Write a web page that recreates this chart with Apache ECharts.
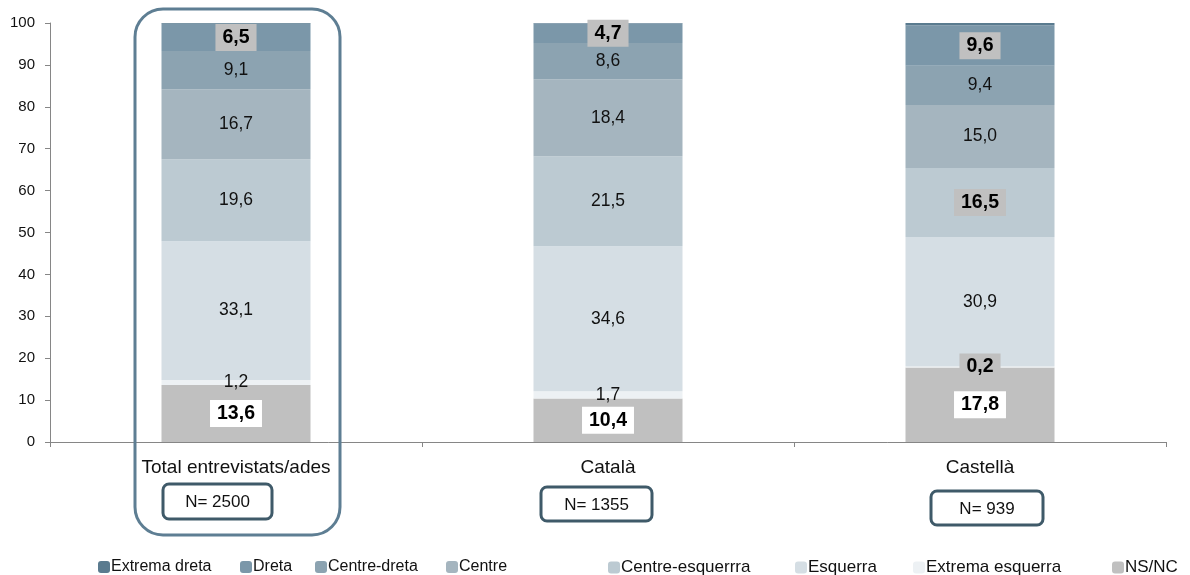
<!DOCTYPE html>
<html>
<head>
<meta charset="utf-8">
<script src="https://cdn.jsdelivr.net/npm/echarts@6/dist/echarts.min.js"></script>
<style>
html,body{margin:0;padding:0;background:#fff;}
#chart{width:1190px;height:575px;}
</style>
</head>
<body>
<div id="chart"></div>
<script>
// ---- data ----
const categories = ['Total entrevistats/ades', 'Català', 'Castellà'];
const sampleSizes = ['N= 2500', 'N= 1355', 'N= 939'];
const nsnc = [13.6, 10.4, 17.8];
const extremaEsquerra = [1.2, 1.7, 0.2];
const esquerra = [33.1, 34.6, 30.9];
const centreEsquerra = [19.6, 21.5, 16.5];
const centre = [16.7, 18.4, 15.0];
const centreDreta = [9.1, 8.6, 9.4];
const dreta = [6.5, 4.7, 9.6];
const extremaDreta = [0.2, 0.1, 0.6];
const yMin = 0, yMax = 100, yInterval = 10;

// stacking order (bottom -> top)
const seriesDefs = [
  { name: 'NS/NC', values: nsnc },
  { name: 'Extrema esquerra', values: extremaEsquerra },
  { name: 'Esquerra', values: esquerra },
  { name: 'Centre-esquerrra', values: centreEsquerra },
  { name: 'Centre', values: centre },
  { name: 'Centre-dreta', values: centreDreta },
  { name: 'Dreta', values: dreta },
  { name: 'Extrema dreta', values: extremaDreta }
];
const legendOrder = ['Extrema dreta', 'Dreta', 'Centre-dreta', 'Centre', 'Centre-esquerrra', 'Esquerra', 'Extrema esquerra', 'NS/NC'];

// ---- styling ----
const colors = {
  'Extrema dreta': '#5a7b8f',
  'Dreta': '#7b97a9',
  'Centre-dreta': '#8ca3b1',
  'Centre': '#a5b5bf',
  'Centre-esquerrra': '#bccad2',
  'Esquerra': '#d5dee4',
  'Extrema esquerra': '#edf1f4',
  'NS/NC': '#c0c0c0'
};
// which labels are emphasised: series name -> {categoryIndex: boxColour}
const emphasis = {
  'NS/NC': { 0: '#ffffff', 1: '#ffffff', 2: '#ffffff' },
  'Dreta': { 0: '#c0c0c0', 1: '#c0c0c0', 2: '#c0c0c0' },
  'Centre-esquerrra': { 2: '#c0c0c0' },
  'Extrema esquerra': { 2: '#c0c0c0' }
};
const FONT = '"Liberation Sans", Arial, sans-serif';
const fmt = v => v.toFixed(1).replace('.', ',');

const series = seriesDefs.map(def => ({
  name: def.name,
  type: 'bar',
  stack: 'total',
  barWidth: 149,
  itemStyle: { color: colors[def.name] },
  label: {
    show: def.name !== 'Extrema dreta',
    position: 'inside',
    fontFamily: FONT,
    fontSize: 17.5,
    color: '#111',
    formatter: p => fmt(p.value)
  },
  emphasis: { disabled: true },
  data: def.values.map((v, i) => {
    const box = emphasis[def.name] && emphasis[def.name][i];
    if (!box) return v;
    return {
      value: v,
      label: {
        fontWeight: 'bold',
        fontSize: 19.5,
        color: '#000',
        backgroundColor: box,
        padding: [4, 7, 3, 7]
      }
    };
  })
}));

// legends placed individually (Excel-like spacing)
const legendLeft = [98, 240, 315, 446, 608, 795, 913, 1112];
const legends = legendOrder.map((name, i) => ({
  data: [name],
  left: legendLeft[i],
  top: 559,
  padding: 0,
  itemWidth: 12,
  itemHeight: 12,
  itemGap: 0,
  selectedMode: false,
  textStyle: { fontFamily: FONT, fontSize: i < 4 ? 16 : 17, color: '#111', padding: [0, 0, 0, -4] }
}));

// annotation boxes
const nBoxes = [
  { x: 163, y: 484, w: 109, h: 35 },
  { x: 541, y: 487, w: 111, h: 34 },
  { x: 931, y: 491, w: 112, h: 34 }
];
const graphics = [
  {
    type: 'rect',
    shape: { x: 135, y: 9, width: 205, height: 526, r: 28 },
    style: { fill: 'none', stroke: '#5e7e93', lineWidth: 3 },
    z: 100
  }
];
nBoxes.forEach((b, i) => {
  graphics.push({
    type: 'rect',
    shape: { x: b.x, y: b.y, width: b.w, height: b.h, r: 6 },
    style: { fill: '#fff', stroke: '#3f5a69', lineWidth: 3 },
    z: 100
  });
  graphics.push({
    type: 'text',
    x: b.x + b.w / 2,
    y: b.y + b.h / 2 + 1,
    style: { text: sampleSizes[i], fontFamily: FONT, fontSize: 17, fill: '#111', align: 'center', verticalAlign: 'middle' },
    z: 101
  });
});

const chart = echarts.init(document.getElementById('chart'), null, { renderer: 'canvas' });
chart.setOption({
  animation: false,
  backgroundColor: '#fff',
  grid: { left: 50, right: 24, top: 23, bottom: 133, containLabel: false },
  legend: legends,
  xAxis: {
    type: 'category',
    data: categories,
    axisLine: { lineStyle: { color: '#868686', width: 1 } },
    axisTick: { show: true, length: 5, lineStyle: { color: '#868686' } },
    axisLabel: { fontFamily: FONT, fontSize: 19, color: '#111', margin: 16 }
  },
  yAxis: {
    type: 'value',
    min: yMin,
    max: yMax,
    interval: yInterval,
    splitLine: { show: false },
    axisLine: { show: true, lineStyle: { color: '#868686', width: 1 } },
    axisTick: { show: true, length: 5, lineStyle: { color: '#868686' } },
    axisLabel: { fontFamily: FONT, fontSize: 15, color: '#111', margin: 15 }
  },
  series: series,
  graphic: graphics
});
</script>
</body>
</html>
